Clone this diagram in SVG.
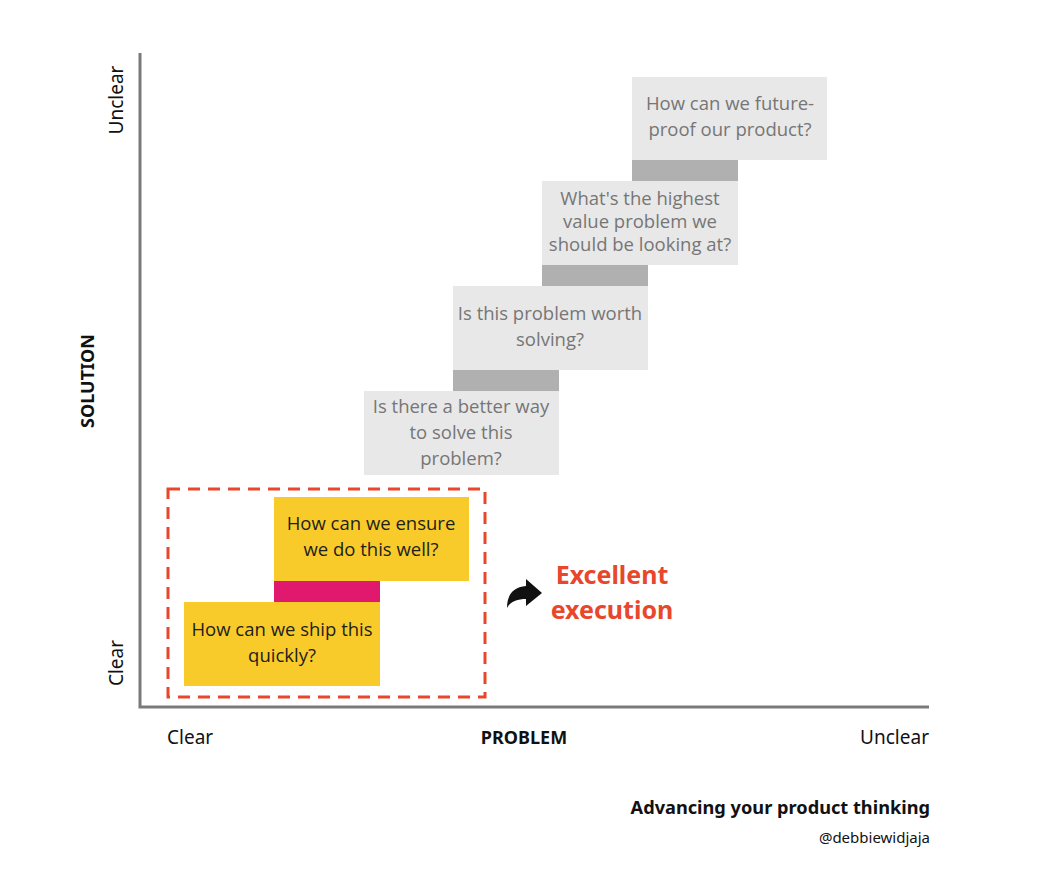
<svg xmlns="http://www.w3.org/2000/svg" width="1050" height="894" viewBox="0 0 1050 894">
<style>
.box{font-family:"Open Sans","Noto Sans",sans-serif;font-size:18.5px;text-anchor:middle}
.g rect.b{fill:#e8e8e8}
.g text{fill:#767676}
.y rect.b{fill:#f8cb2a}
.y text{fill:#1e1e1e}
.lab{font-family:"Noto Sans","Open Sans",sans-serif;font-size:19px;fill:#111}
.bold{font-weight:bold}
</style>
<rect width="1050" height="894" fill="#fff"/>
<g id="axes">
<path d="M140,53 V707 H929" fill="none" stroke="#7a7a7a" stroke-width="3"/>
</g>
<g id="axis-labels">
<text class="lab" transform="translate(123,100) rotate(-90)" text-anchor="middle">Unclear</text>
<text class="lab" transform="translate(123,663) rotate(-90)" text-anchor="middle">Clear</text>
<text class="lab bold" transform="translate(94,381) rotate(-90)" text-anchor="middle" style="font-size:18px">SOLUTION</text>
<text class="lab" x="167" y="744">Clear</text>
<text class="lab bold" x="524" y="744" text-anchor="middle" style="font-size:18px">PROBLEM</text>
<text class="lab" x="929" y="744" text-anchor="end">Unclear</text>
<text class="lab bold" x="930" y="814" text-anchor="end" style="font-size:18.2px">Advancing your product thinking</text>
<text class="lab" x="930" y="843" text-anchor="end" style="font-size:15px">@debbiewidjaja</text>
</g>
<g id="connectors">
<rect x="632" y="160" width="106" height="21" fill="#b0b0b0"/>
<rect x="542" y="265" width="106" height="21" fill="#b0b0b0"/>
<rect x="453" y="370" width="106" height="21" fill="#b0b0b0"/>
<rect x="274" y="581" width="106" height="21" fill="#e0196e"/>
</g>
<g id="node-future" class="box g">
<rect class="b" x="632" y="77" width="195" height="83"/>
<text x="730" y="110">How can we future-</text>
<text x="730" y="136">proof our product?</text>
</g>
<g id="node-highest" class="box g">
<rect class="b" x="542" y="181" width="196" height="84"/>
<text x="640" y="205">What's the highest</text>
<text x="640" y="228">value problem we</text>
<text x="640" y="251">should be looking at?</text>
</g>
<g id="node-worth" class="box g">
<rect class="b" x="453" y="286" width="195" height="84"/>
<text x="550" y="320">Is this problem worth</text>
<text x="550" y="346">solving?</text>
</g>
<g id="node-better" class="box g">
<rect class="b" x="364" y="391" width="195" height="84"/>
<text x="461" y="413">Is there a better way</text>
<text x="461" y="439">to solve this</text>
<text x="461" y="465">problem?</text>
</g>
<g id="node-ensure" class="box y">
<rect class="b" x="274" y="497" width="195" height="84"/>
<text x="371" y="530">How can we ensure</text>
<text x="371" y="556">we do this well?</text>
</g>
<g id="node-ship" class="box y">
<rect class="b" x="184" y="602" width="196" height="84"/>
<text x="282" y="636">How can we ship this</text>
<text x="282" y="662">quickly?</text>
</g>
<g id="execution-frame">
<rect x="168" y="489" width="317" height="208" fill="none" stroke="#e8472c" stroke-width="3" stroke-dasharray="12,8"/>
</g>
<g id="execution-label">
<path d="M507,608 C507,594 514,587 526,586 L526,579 L542,593 L526,606 L526,599 C517,599 510,602 507,608 Z" fill="#111"/>
<text x="612" y="584" text-anchor="middle" style="font-family:'Noto Sans','Open Sans',sans-serif;font-size:25px;font-weight:bold;fill:#e8472c">Excellent</text>
<text x="612" y="619" text-anchor="middle" style="font-family:'Noto Sans','Open Sans',sans-serif;font-size:25px;font-weight:bold;fill:#e8472c">execution</text>
</g>
</svg>
